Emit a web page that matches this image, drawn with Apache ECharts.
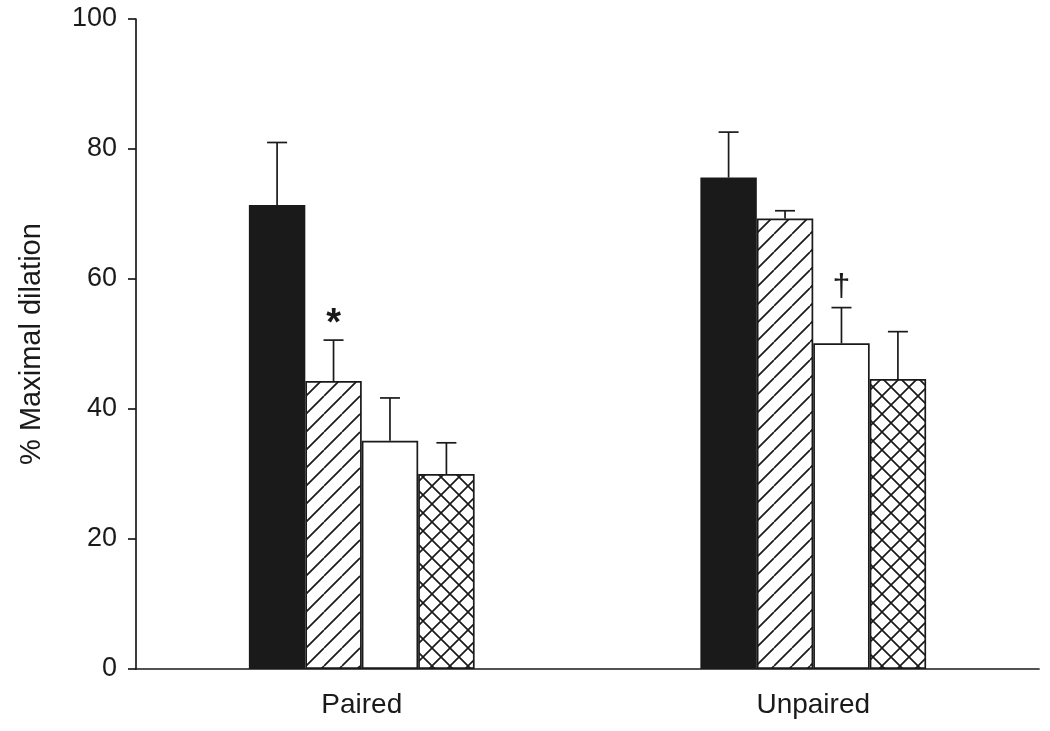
<!DOCTYPE html>
<html>
<head>
<meta charset="utf-8">
<script src="https://cdn.jsdelivr.net/npm/echarts@6/dist/echarts.min.js"></script>
<style>
html,body{margin:0;padding:0;background:#fff;}
#chart{width:1050px;height:731px;}
</style>
</head>
<body>
<div id="chart"></div>
<script>
// ---- data ----
const categories = ['Paired', 'Unpaired'];
const yTicks = [0, 20, 40, 60, 80, 100];
const blackMean   = [71.4, 75.6];
const blackErr    = [9.6, 7.0];
const hatchMean   = [44.3, 69.3];
const hatchErr    = [6.3, 1.2];
const whiteMean   = [35.1, 50.1];
const whiteErr    = [6.6, 5.5];
const crossMean   = [30.0, 44.6];
const crossErr    = [4.8, 7.3];
// annotations: [category index, series index, symbol]
const annotations = [[0, 1, '*'], [1, 2, '\u2020']];

const INK = '#1a1a1a';
const FONT = "'Liberation Sans', Arial, Helvetica, sans-serif";

function makePattern(cross) {
  const s = 18;
  const c = document.createElement('canvas');
  c.width = s; c.height = s;
  const ctx = c.getContext('2d');
  ctx.fillStyle = '#fff';
  ctx.fillRect(0, 0, s, s);
  ctx.strokeStyle = INK;
  ctx.lineWidth = 1.7;
  ctx.beginPath();
  for (const k of [-s, 0, s]) {
    ctx.moveTo(k, s); ctx.lineTo(k + s, 0);
    if (cross) { ctx.moveTo(k, 0); ctx.lineTo(k + s, s); }
  }
  ctx.stroke();
  return c;
}

const means = [blackMean, hatchMean, whiteMean, crossMean];
const errs = [blackErr, hatchErr, whiteErr, crossErr];
const fills = [INK, {image: makePattern(false), repeat: 'repeat'}, '#ffffff', {image: makePattern(true), repeat: 'repeat'}];

const errData = [];
for (let s = 0; s < 4; s++) {
  for (let c = 0; c < categories.length; c++) {
    let ann = '';
    annotations.forEach(a => { if (a[0] === c && a[1] === s) ann = a[2]; });
    errData.push([c, s, means[s][c], means[s][c] + errs[s][c], ann]);
  }
}

const barSeries = means.map((m, i) => ({
  type: 'bar',
  data: m,
  barGap: '0%',
  barCategoryGap: '50%',
  itemStyle: { color: fills[i], borderColor: INK, borderWidth: 1.7 },
  silent: true,
  z: 2
}));

const errSeries = {
  type: 'custom',
  data: errData,
  z: 3,
  silent: true,
  renderItem: function (params, api) {
    const band = api.size([1, 0])[0];
    const bw = band * 0.5 / 4;
    const c = api.value(0), s = api.value(1);
    const x = api.coord([c, 0])[0] + (s - 1.5) * bw;
    const yMean = api.coord([c, api.value(2)])[1];
    const yTop = api.coord([c, api.value(3)])[1];
    const cap = 10;
    const children = [
      { type: 'line', shape: { x1: x, y1: yMean, x2: x, y2: yTop }, style: { stroke: INK, lineWidth: 1.7 } },
      { type: 'line', shape: { x1: x - cap, y1: yTop, x2: x + cap, y2: yTop }, style: { stroke: INK, lineWidth: 1.7 } }
    ];
    const ann = api.value(4);
    if (ann) {
      const isStar = ann === '*';
      children.push({
        type: 'text',
        style: {
          text: ann, x: x, y: yTop - (isStar ? -3 : 4),
          align: 'center', verticalAlign: 'bottom',
          fill: INK,
          font: (isStar ? 'bold 38px ' : '32px ') + FONT
        }
      });
    }
    return { type: 'group', children: children };
  }
};

const chart = echarts.init(document.getElementById('chart'), null, { renderer: 'canvas' });
chart.setOption({
  animation: false,
  backgroundColor: '#ffffff',
  grid: { left: 136, right: 11, top: 19, bottom: 62, containLabel: false },
  xAxis: {
    type: 'category',
    data: categories,
    axisLine: { lineStyle: { color: INK, width: 1.7 } },
    axisTick: { show: false },
    axisLabel: { color: INK, fontSize: 28, fontFamily: FONT, margin: 22 }
  },
  yAxis: {
    type: 'value',
    min: yTicks[0], max: yTicks[yTicks.length - 1], interval: 20,
    name: '% Maximal dilation',
    nameLocation: 'middle',
    nameGap: 90,
    nameTextStyle: { color: INK, fontSize: 29, fontFamily: FONT },
    axisLine: { show: true, lineStyle: { color: INK, width: 1.7 } },
    axisTick: { show: true, length: 8, inside: false, lineStyle: { color: INK, width: 1.7 } },
    axisLabel: { color: INK, fontSize: 27, fontFamily: FONT, margin: 19 },
    splitLine: { show: false }
  },
  series: barSeries.concat([errSeries])
});
</script>
</body>
</html>
